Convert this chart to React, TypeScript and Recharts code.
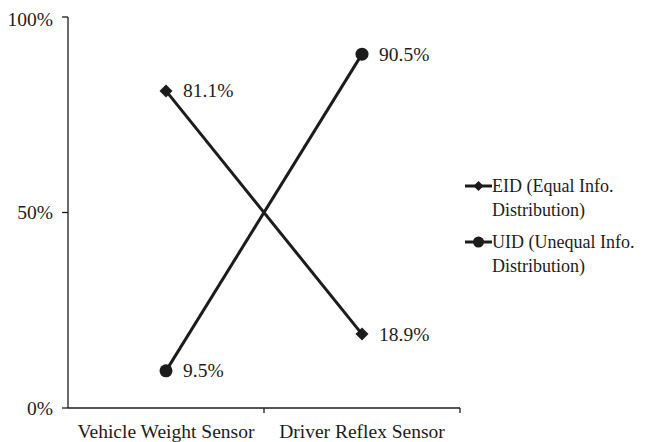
import React from "react";
import { LineChart, Line, XAxis, YAxis, Legend, LabelList } from "recharts";

const categories = ["Vehicle Weight Sensor", "Driver Reflex Sensor"];
const eidValues = [81.1, 18.9];
const uidValues = [9.5, 90.5];
const yTicks = [0, 50, 100];

const seriesInfo = [
  { key: "eid", lines: ["EID (Equal Info.", "Distribution)"], shape: "diamond" },
  { key: "uid", lines: ["UID (Unequal Info.", "Distribution)"], shape: "circle" },
];

const data = categories.map((name, i) => ({ name, eid: eidValues[i], uid: uidValues[i] }));

const FONT = "'Liberation Serif', 'Times New Roman', serif";
const FS = 19.5;
const LEGEND_FS = 18;
const INK = "#1c1c1c";
const W = 637;
const H = 434;
const PLOT_LEFT = 60;
const PLOT_RIGHT = 452;
const BAND = (PLOT_RIGHT - PLOT_LEFT) / categories.length;

const Diamond = ({ cx, cy, size = 6.5 }: any) => (
  <path
    d={`M${cx},${cy - size} L${cx + size},${cy} L${cx},${cy + size} L${cx - size},${cy} Z`}
    fill={INK}
  />
);
const Dot = ({ cx, cy, size = 6.5 }: any) => <circle cx={cx} cy={cy} r={size} fill={INK} />;

const ValueLabel = (props: any) => {
  const { x, y, value } = props;
  return (
    <text x={x + 17} y={y} dominantBaseline="central" fontFamily={FONT} fontSize={FS} fill={INK}>
      {`${Number(value).toFixed(1)}%`}
    </text>
  );
};

const CategoryTick = (props: any) => {
  const { x, y, payload } = props;
  return (
    <g>
      <line x1={x + BAND / 2} y1={y - 8} x2={x + BAND / 2} y2={y - 3} stroke={INK} strokeWidth={1.3} />
      <text x={x} y={y + 22} textAnchor="middle" fontFamily={FONT} fontSize={FS} fill={INK}>
        {payload.value}
      </text>
    </g>
  );
};

const LegendBox = () => (
  <div style={{ fontFamily: FONT, fontSize: LEGEND_FS, color: INK, lineHeight: "24px", whiteSpace: "nowrap" }}>
    {seriesInfo.map((s, i) => (
      <div key={s.key} style={{ display: "flex", alignItems: "flex-start", marginBottom: i === 0 ? 8 : 0 }}>
        <svg width={27} height={24} style={{ flex: "none" }}>
          <line x1={0} y1={12} x2={27} y2={12} stroke={INK} strokeWidth={3} />
          {s.shape === "diamond" ? <Diamond cx={13.5} cy={12} size={5} /> : <Dot cx={13.5} cy={12} size={5.5} />}
        </svg>
        <div>
          {s.lines.map((t) => (
            <div key={t}>{t}</div>
          ))}
        </div>
      </div>
    ))}
  </div>
);

export default function App() {
  return (
    <LineChart width={W} height={H} data={data} margin={{ top: 9, right: W - PLOT_RIGHT, bottom: 0, left: 0 }}>
      <XAxis
        dataKey="name"
        scale="band"
        axisLine={{ stroke: INK, strokeWidth: 1.3 }}
        tickLine={false}
        tickSize={0}
        tickMargin={8}
        height={34}
        tick={<CategoryTick />}
        interval={0}
      />
      <YAxis
        domain={[0, 100]}
        ticks={yTicks}
        width={PLOT_LEFT}
        axisLine={{ stroke: INK, strokeWidth: 1.3 }}
        tickLine={{ stroke: INK, strokeWidth: 1.3 }}
        tickSize={6}
        tickMargin={9}
        tickFormatter={(v: number) => `${v}%`}
        tick={{ fontFamily: FONT, fontSize: FS, fill: INK }}
      />
      <Legend
        layout="vertical"
        align="center"
        verticalAlign="middle"
        wrapperStyle={{ left: 457, top: 166, width: 180 }}
        content={<LegendBox />}
      />
      <Line
        dataKey="eid"
        stroke={INK}
        strokeWidth={3}
        dot={<Diamond />}
        activeDot={false}
        isAnimationActive={false}
      >
        <LabelList dataKey="eid" content={<ValueLabel />} />
      </Line>
      <Line
        dataKey="uid"
        stroke={INK}
        strokeWidth={3}
        dot={<Dot />}
        activeDot={false}
        isAnimationActive={false}
      >
        <LabelList dataKey="uid" content={<ValueLabel />} />
      </Line>
    </LineChart>
  );
}
